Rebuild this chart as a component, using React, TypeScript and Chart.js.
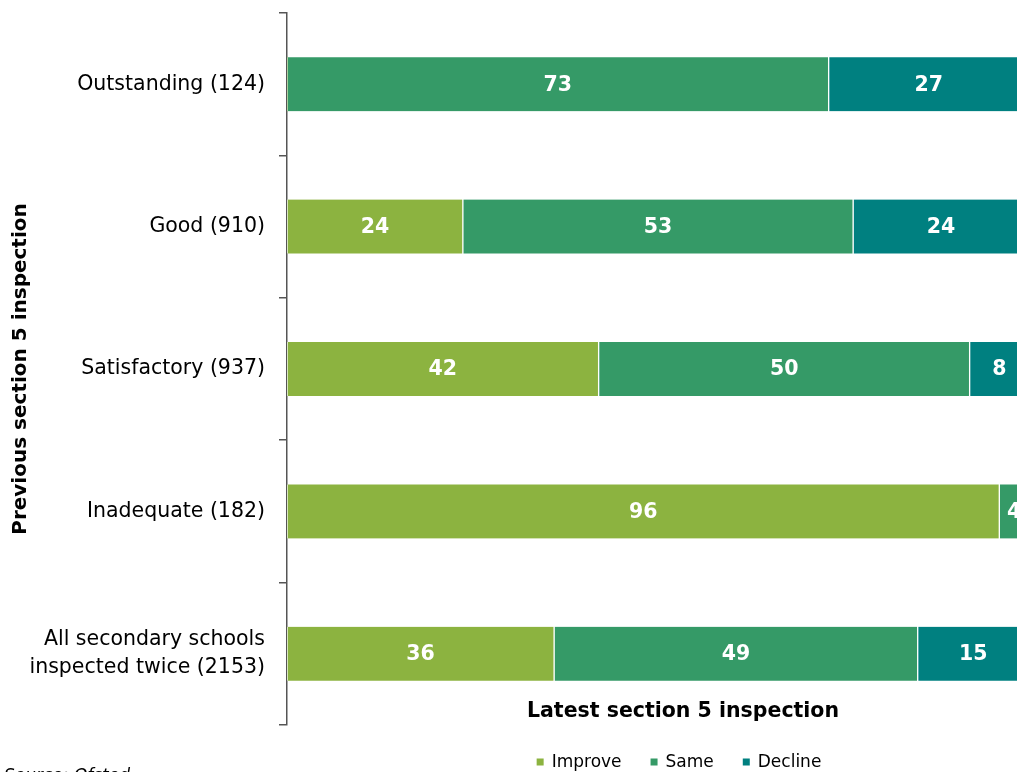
import React, { useEffect, useRef } from "react";
import { Chart, registerables } from "chart.js";

Chart.register(...registerables);

const categories: (string | string[])[] = [
  "Outstanding (124)",
  "Good (910)",
  "Satisfactory (937)",
  "Inadequate (182)",
  ["All secondary schools", "inspected twice (2153)"],
];
const improveValues = [0, 23.7, 42, 96, 36];
const sameValues = [73, 52.6, 50, 4, 49];
const declineValues = [27, 23.7, 8, 0, 15];
const seriesNames = ["Improve", "Same", "Decline"];
const seriesColors = ["#8cb340", "#359a67", "#008080"];
const yTitle = "Previous section 5 inspection";
const xTitle = "Latest section 5 inspection";
const sourceText = "Source: Ofsted";

const FONT = "'DejaVu Sans', sans-serif";

const labelPlugin = {
  id: "segLabels",
  afterDatasetsDraw(chart: any) {
    const ctx = chart.ctx;
    ctx.save();
    ctx.font = `bold 20.5px ${FONT}`;
    ctx.fillStyle = "#ffffff";
    ctx.textAlign = "center";
    ctx.textBaseline = "middle";
    chart.data.datasets.forEach((ds: any, di: number) => {
      const meta = chart.getDatasetMeta(di);
      meta.data.forEach((el: any, i: number) => {
        const v = ds.data[i];
        if (!v) return;
        const cx = (el.x + el.base) / 2;
        ctx.fillText(String(Math.round(v)), cx, el.y + 1);
      });
    });
    ctx.restore();
  },
  afterDraw(chart: any) {
    const ctx = chart.ctx;
    ctx.save();
    // x title
    ctx.font = `bold 20.5px ${FONT}`;
    ctx.fillStyle = "#000";
    ctx.textAlign = "center";
    ctx.textBaseline = "middle";
    ctx.fillText(xTitle, 683, 712);
    // legend
    ctx.font = `17px ${FONT}`;
    const box = 7;
    const gap = 8;
    const spacing = 29;
    const widths = seriesNames.map((n) => ctx.measureText(n).width);
    const total =
      widths.reduce((a: number, w: number) => a + box + gap + w, 0) +
      spacing * (seriesNames.length - 1);
    let x = 679 - total / 2;
    const y = 762;
    ctx.textAlign = "left";
    seriesNames.forEach((n, i) => {
      ctx.fillStyle = seriesColors[i];
      ctx.fillRect(x, y - box / 2, box, box);
      ctx.fillStyle = "#000";
      ctx.fillText(n, x + box + gap, y + 1);
      x += box + gap + widths[i] + spacing;
    });
    // source
    ctx.font = `italic 17px ${FONT}`;
    ctx.textBaseline = "alphabetic";
    ctx.fillText(sourceText, 4, 781);
    ctx.restore();
  },
};

export default function App() {
  const ref = useRef<HTMLCanvasElement>(null);
  useEffect(() => {
    if (!ref.current) return;
    Chart.defaults.font.family = FONT;
    const mk = (label: string, data: number[], color: string) => ({
      label,
      data,
      backgroundColor: color,
      borderColor: "#ffffff",
      borderWidth: { top: 0, bottom: 0, left: 1, right: 1 },
      borderSkipped: false,
      barThickness: 54,
    });
    const chart = new Chart(ref.current, {
      type: "bar",
      data: {
        labels: categories as any,
        datasets: [
          mk(seriesNames[0], improveValues, seriesColors[0]),
          mk(seriesNames[1], sameValues, seriesColors[1]),
          mk(seriesNames[2], declineValues, seriesColors[2]),
        ] as any,
      },
      options: {
        indexAxis: "y",
        responsive: false,
        animation: false,
        events: [],
        layout: { padding: { top: 13, bottom: 75, left: 0, right: 11 } },
        plugins: {
          legend: { display: false },
          tooltip: { enabled: false },
          title: { display: false },
        },
        scales: {
          x: {
            stacked: true,
            display: false,
            min: 0,
            max: 100,
          },
          y: {
            stacked: true,
            offset: true,
            z: 1,
            grid: {
              display: true,
              drawOnChartArea: false,
              drawTicks: true,
              tickLength: 8,
              color: "#555555",
              lineWidth: 1.5,
              offset: true,
            },
            border: { display: true, color: "#555555", width: 1.5 },
            ticks: {
              color: "#000",
              padding: 14,
              font: { family: FONT, size: 20.5, lineHeight: 1.37 },
            },
            title: {
              display: true,
              text: yTitle,
              color: "#000",
              font: { family: FONT, size: 20, weight: "bold", lineHeight: 1.2 },
              padding: { top: 9, bottom: 0 },
            },
            afterFit: (s: any) => {
              s.width = 287;
              s.paddingTop = 0;
              s.paddingBottom = 0;
            },
          },
        },
      } as any,
      plugins: [labelPlugin],
    });
    return () => chart.destroy();
  }, []);
  return (
    <div
      style={{
        position: "fixed",
        left: 0,
        top: 0,
        width: 1017,
        height: 772,
        overflow: "hidden",
        background: "#fff",
      }}
    >
      <canvas ref={ref} width={1040} height={800} style={{ display: "block" }} />
    </div>
  );
}
